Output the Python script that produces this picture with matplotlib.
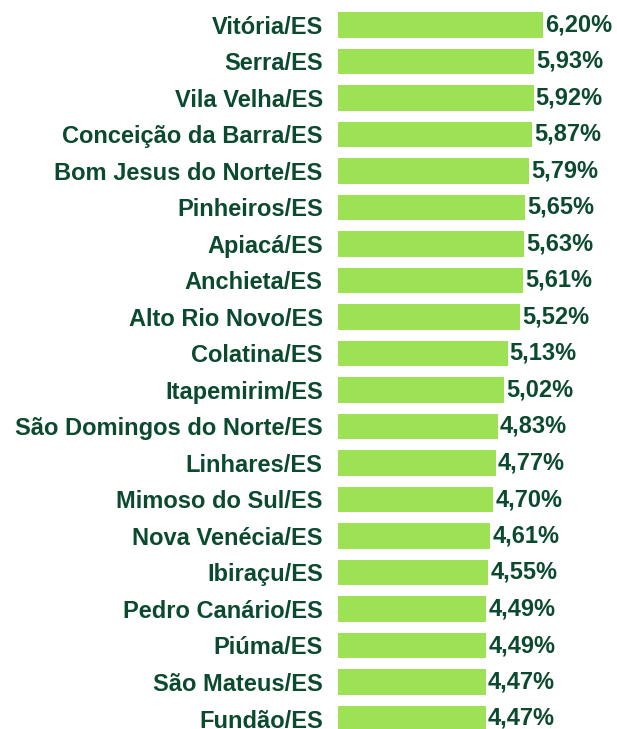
import matplotlib.pyplot as plt

cidades = ["Vitória/ES", "Serra/ES", "Vila Velha/ES", "Conceição da Barra/ES",
           "Bom Jesus do Norte/ES", "Pinheiros/ES", "Apiacá/ES", "Anchieta/ES",
           "Alto Rio Novo/ES", "Colatina/ES", "Itapemirim/ES",
           "São Domingos do Norte/ES", "Linhares/ES", "Mimoso do Sul/ES",
           "Nova Venécia/ES", "Ibiraçu/ES", "Pedro Canário/ES", "Piúma/ES",
           "São Mateus/ES", "Fundão/ES"]
valores = [6.20, 5.93, 5.92, 5.87, 5.79, 5.65, 5.63, 5.61, 5.52, 5.13,
           5.02, 4.83, 4.77, 4.70, 4.61, 4.55, 4.49, 4.49, 4.47, 4.47]

verde = "#9de154"
texto = "#0b4a2e"
plt.rcParams['font.family'] = ['Liberation Sans', 'DejaVu Sans']

fig = plt.figure(figsize=(6.17, 7.29), dpi=100)
ax = fig.add_axes([338 / 617, 0, 1 - 338 / 617, 1])

pos = list(range(len(cidades)))
ax.barh(pos, valores, height=0.685, color=verde)
ax.set_xlim(0, 279 / 33.05)
ax.set_ylim((729 - 25) / 36.5, -25 / 36.5)

for y, v in zip(pos, valores):
    ax.annotate(f"{v:.2f}%".replace(".", ","), xy=(v, y), xytext=(1.5, 0),
                textcoords="offset points", va="center", ha="left",
                fontsize=17, fontweight="bold", color=texto)

ax.set_yticks(pos)
ax.set_yticklabels(cidades, fontsize=17, fontweight="bold", color=texto)
ax.tick_params(axis="y", length=0, pad=11)
ax.set_xticks([])
for s in ax.spines.values():
    s.set_visible(False)

fig.savefig("out.png", dpi=100)
